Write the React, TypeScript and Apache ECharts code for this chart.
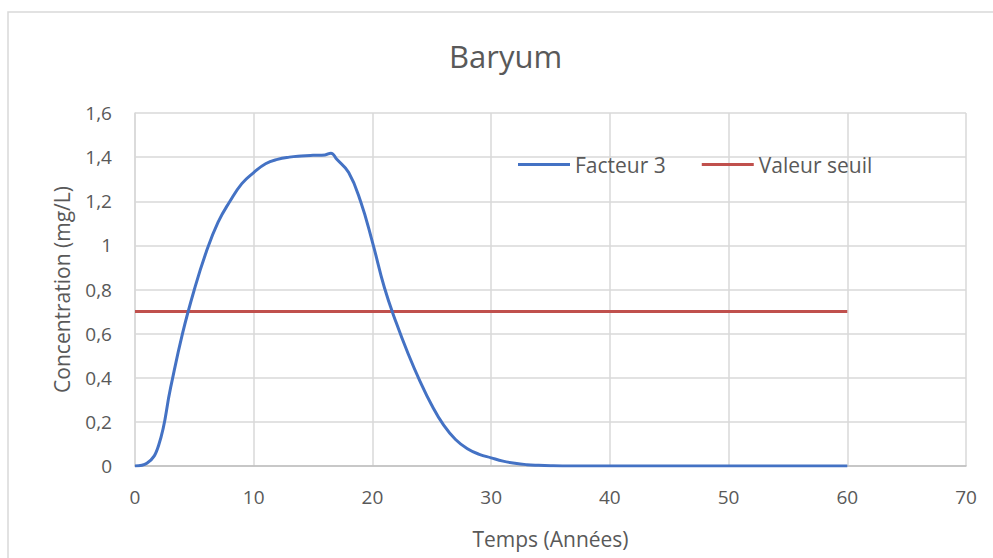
import React, { useEffect, useRef } from "react";
import * as echarts from "echarts";

const years = [0, 1, 2, 3, 4, 5, 6, 7, 8, 9, 10, 11, 12, 13, 14, 15, 16, 16.5, 17, 18, 19, 20, 21, 22, 23, 24, 25, 26, 27, 28, 29, 30, 31, 32, 33, 34, 35, 36, 40, 45, 50, 55, 60];
const facteur3 = [0, 0.012, 0.095, 0.355, 0.6, 0.8, 0.97, 1.105, 1.2, 1.28, 1.33, 1.37, 1.39, 1.4, 1.405, 1.408, 1.41, 1.418, 1.39, 1.33, 1.2, 1.015, 0.81, 0.65, 0.51, 0.385, 0.275, 0.185, 0.12, 0.078, 0.053, 0.037, 0.022, 0.012, 0.006, 0.003, 0.001, 0, 0, 0, 0, 0, 0];
const seuilYears = [0, 60];
const seuilValues = [0.7, 0.7];
const xTicks = [0, 10, 20, 30, 40, 50, 60, 70];
const yTicks = [0, 0.2, 0.4, 0.6, 0.8, 1, 1.2, 1.4, 1.6];

const FONT = "'Open Sans', 'Noto Sans', sans-serif";
const TXT = "#595959";

export default function App() {
  const ref = useRef<HTMLDivElement>(null);
  useEffect(() => {
    if (!ref.current) return;
    const chart = echarts.init(ref.current, null, { renderer: "svg" });
    chart.setOption({
      animation: false,
      backgroundColor: "#ffffff",
      textStyle: { fontFamily: FONT },
      title: {
        text: "Baryum",
        left: 444,
        top: 35,
        textStyle: { fontFamily: FONT, fontSize: 31, fontWeight: "normal", color: TXT },
      },
      graphic: [
        {
          type: "rect",
          shape: { x: 8, y: 12, width: 1100, height: 700 },
          style: { fill: "none", stroke: "#d9d9d9", lineWidth: 1.5 },
          silent: true,
        },
      ],
      legend: {
        left: 513,
        top: 149,
        itemWidth: 52,
        itemHeight: 3,
        itemGap: 36,
        icon: "rect",
        textStyle: { fontFamily: FONT, fontSize: 21, color: TXT },
        data: ["Facteur 3", "Valeur seuil"],
      },
      grid: { left: 135, right: 27, top: 113, bottom: 92, containLabel: false },
      xAxis: {
        type: "value",
        min: xTicks[0],
        max: xTicks[xTicks.length - 1],
        interval: 10,
        name: "Temps (Années)",
        nameLocation: "middle",
        nameGap: 62,
        nameTextStyle: { fontFamily: FONT, fontSize: 21, color: TXT },
        axisLine: { show: true, lineStyle: { color: "#bfbfbf", width: 1.5 } },
        axisTick: { show: false },
        axisLabel: { color: TXT, fontSize: 19, fontFamily: FONT, margin: 21 },
        splitLine: { show: true, lineStyle: { color: "#d9d9d9", width: 1.5 } },
      },
      yAxis: {
        type: "value",
        min: yTicks[0],
        max: yTicks[yTicks.length - 1],
        interval: 0.2,
        name: "Concentration (mg/L)",
        nameLocation: "middle",
        nameGap: 63,
        nameTextStyle: { fontFamily: FONT, fontSize: 21, color: TXT },
        axisLine: { show: true, lineStyle: { color: "#d9d9d9", width: 1.5 } },
        axisTick: { show: false },
        axisLabel: {
          color: TXT,
          fontSize: 19,
          fontFamily: FONT,
          margin: 23,
          formatter: (v: number) => String(Math.round(v * 10) / 10).replace(".", ","),
        },
        splitLine: { show: true, lineStyle: { color: "#d9d9d9", width: 1.5 } },
      },
      series: [
        {
          name: "Facteur 3",
          type: "line",
          data: years.map((x, i) => [x, facteur3[i]]),
          symbol: "none",
          smooth: 0.45,
          lineStyle: { color: "#4472C4", width: 3 },
          itemStyle: { color: "#4472C4" },
          z: 3,
        },
        {
          name: "Valeur seuil",
          type: "line",
          data: seuilYears.map((x, i) => [x, seuilValues[i]]),
          symbol: "none",
          lineStyle: { color: "#C0504D", width: 3 },
          itemStyle: { color: "#C0504D" },
          z: 2,
        },
      ],
    });
    return () => chart.dispose();
  }, []);
  return <div ref={ref} style={{ width: 993, height: 558, position: "absolute", left: 0, top: 0 }} />;
}
